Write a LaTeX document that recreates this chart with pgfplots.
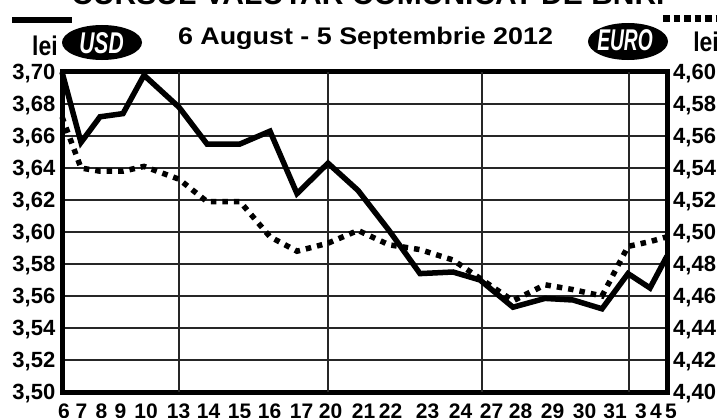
\documentclass[border=0pt]{standalone}
\usepackage{fontspec}
\setmainfont{Liberation Sans}
\usepackage{graphicx}
\usepackage{pgfplots}
\pgfplotsset{compat=1.18}
\newcommand{\tlfont}{\bfseries\fontsize{22bp}{22bp}\selectfont}
\begin{document}
\begin{tikzpicture}[x=1bp,y=1bp]
\begin{axis}[
  at={(62bp,25bp)}, anchor=south west,
  scale only axis, width=605bp, height=320bp,
  xmin=62, xmax=667, ymin=3.50, ymax=3.70,
  clip=false,
  axis line style={line width=5bp, line join=miter},
  major tick length=0pt,
  ytick={3.50,3.52,3.54,3.56,3.58,3.60,3.62,3.64,3.66,3.68,3.70},
  yticklabel={\pgfmathprintnumber[fixed,fixed zerofill,precision=2,use comma,assume math mode=true]{\tick}},
  yticklabel style={font=\tlfont, inner sep=0pt, anchor=base east, xshift=-6.5bp, yshift=-7.8bp},
  ymajorgrids,
  major grid style={line width=1.2bp, black!85},
  xtick={64,81.5,101.5,120.5,146,178.5,208.5,239.5,269.5,301.5,330.5,363.5,390.5,427.5,460.5,491.5,520.5,552.5,584.5,615,641,656,667},
  xticklabels={6,7,8,9,10,13,14,15,16,17,20,21,22,23,24,27,28,29,30,31,3,4,\hspace{8bp}5},
  xticklabel style={font=\bfseries\fontsize{21bp}{21bp}\selectfont, inner sep=0pt, anchor=north, yshift=-11.5bp},
  extra x ticks={179,328,482,629},
  extra x tick labels={},
  extra x tick style={grid=major, major grid style={line width=1.2bp, black!85}},
]
\addplot[black, line width=5.5bp, line join=miter, miter limit=4] coordinates {
(62,3.700) (81,3.656) (100,3.672) (123,3.674) (144,3.698) (179,3.678)
(207,3.655) (240,3.655) (270,3.663) (297,3.624) (328,3.643) (358,3.626)
(389,3.601) (420,3.574) (453,3.575) (480,3.570) (513,3.553) (545,3.5585)
(573,3.5575) (602,3.552) (628,3.574) (650,3.565) (667,3.585)};
\end{axis}
\begin{axis}[
  at={(62bp,25bp)}, anchor=south west,
  scale only axis, width=605bp, height=320bp,
  xmin=62, xmax=667, ymin=4.40, ymax=4.60,
  clip=false,
  axis x line=none, axis y line*=right,
  axis line style={line width=5bp},
  major tick length=0pt,
  ytick={4.40,4.42,4.44,4.46,4.48,4.50,4.52,4.54,4.56,4.58,4.60},
  yticklabel={\pgfmathprintnumber[fixed,fixed zerofill,precision=2,use comma,assume math mode=true]{\tick}},
  yticklabel style={font=\tlfont, inner sep=0pt, anchor=base west, xshift=6bp, yshift=-7.8bp},
]
\addplot[black, line width=5.5bp, dash pattern=on 5.5bp off 6bp] coordinates {
(62,4.572) (81,4.540) (100,4.538) (123,4.538) (144,4.541) (179,4.533)
(207,4.519) (240,4.519) (270,4.497) (297,4.488) (328,4.493) (358,4.501)
(389,4.492) (420,4.489) (453,4.4825) (480,4.471) (513,4.457) (545,4.467)
(573,4.464) (602,4.460) (628,4.491) (650,4.494) (667,4.497)};
\end{axis}
% header
\node[anchor=base, inner sep=0pt] at (368,412) {\bfseries\fontsize{30bp}{30bp}\selectfont CURSUL VALUTAR COMUNICAT DE BNR.};
\draw[line width=6bp] (12,397) -- (72,397);
\draw[line width=6.7bp, dash pattern=on 6.7bp off 3.8bp] (663,398.5) -- (716,398.5);
\node[anchor=base, inner sep=0pt] at (45,362) {\scalebox{0.85}[1]{\bfseries\fontsize{27bp}{27bp}\selectfont lei}};
\node[anchor=base, inner sep=0pt] at (706,366) {\scalebox{0.85}[1]{\bfseries\fontsize{27bp}{27bp}\selectfont lei}};
\fill (102,374.5) ellipse [x radius=40, y radius=17.5];
\fill (628,375.5) ellipse [x radius=40, y radius=18.5];
\node[anchor=base, inner sep=0pt, white] at (101.5,364) {\scalebox{0.7}[1]{\bfseries\itshape\fontsize{30bp}{30bp}\selectfont USD}};
\node[anchor=base, inner sep=0pt, white] at (625,367) {\scalebox{0.64}[1]{\bfseries\itshape\fontsize{30bp}{30bp}\selectfont EURO}};
\node[anchor=base, inner sep=0pt] at (365.5,373) {\scalebox{1.12}[1]{\bfseries\fontsize{24bp}{24bp}\selectfont 6 August - 5 Septembrie 2012}};
\pgfresetboundingbox
\useasboundingbox (0,0) rectangle (724,417);
\end{tikzpicture}
\end{document}
